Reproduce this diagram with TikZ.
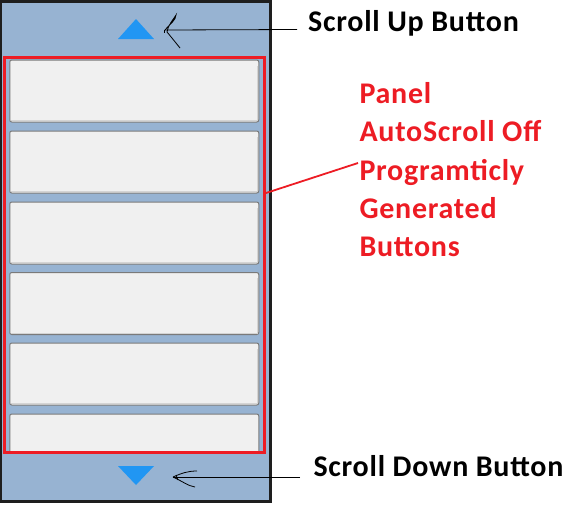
\documentclass[tikz,border=0pt]{standalone}
\usepackage{fontspec}
\setmainfont{Carlito}
\definecolor{frame}{HTML}{1E1E1E}
\definecolor{panelbg}{HTML}{97B3D2}
\definecolor{redbox}{HTML}{ED1C24}
\definecolor{tri}{HTML}{2196F3}
\definecolor{btnfill}{HTML}{F0F0F0}
\definecolor{btnedge}{HTML}{7A7A7A}
\definecolor{btnshade}{HTML}{D4D4D4}
\tikzset{
  btn/.style={draw=btnedge, fill=btnfill, rounded corners=2pt, line width=1pt,
    minimum width=249pt, minimum height=62pt, inner sep=0pt},
  lbl/.style={font=\bfseries\fontsize{30}{33}\selectfont\addfontfeature{LetterSpace=2.5}, anchor=base west, inner sep=0pt},
  redlbl/.style={lbl, text=redbox},
  pen/.style={line width=0.8pt, black},
}
\begin{document}
\begin{tikzpicture}[x=1pt,y=-1pt]
\useasboundingbox (0,0) rectangle (588,515);
\fill[white] (0,0) rectangle (588,515);
% frame
\fill[frame] (0,0) rectangle (272,503);
\fill[panelbg] (2,3) rectangle (269,500);
% triangles
\fill[tri] (118,39) -- (136,19) -- (154,39) -- cycle;
\fill[tri] (118,466) -- (136,485) -- (154,466) -- cycle;
% buttons
\foreach \n/\y in {b1/91, b2/162, b3/233, b4/303.5, b5/374} {
  \node[btn] (\n) at (134.25,\y) {};
  \draw[btnshade, line width=1pt] ([xshift=2pt,yshift=2pt]\n.south west) -- ([xshift=-2pt,yshift=2pt]\n.south east) -- ([xshift=-2pt,yshift=-6pt]\n.north east);
}
\begin{scope}
\clip (0,0) rectangle (272,451);
\node[btn] (b6) at (134.25,445) {};
\end{scope}
% red panel
\draw[redbox, line width=3pt] (4.5,57.5) rectangle (264.5,452.5);
\coordinate (panelR) at (266,193);
% labels
\node[lbl] (up) at (308,31.7) {Scroll Up Button};
\node[lbl] (down) at (313.3,476.7) {Scroll Down Button};
\node[redlbl] (t1) at (359.3,103.3) {Panel};
\node[redlbl] (t2) at (359.3,141.7) {AutoScroll Off};
\node[redlbl] (t3) at (359.3,180) {Programticly};
\node[redlbl] (t4) at (359.3,218.5) {Generated};
\node[redlbl] (t5) at (359.3,256.7) {Buttons};
% red connector
\coordinate (t3w) at (358,163);
\draw[redbox, line width=1.8pt] (panelR) -- (t3w);
% up arrow, hand drawn
\coordinate (upend) at (297,29.5);
\coordinate (uptip) at (165,30);
\draw[pen] (upend) -- (uptip);
\draw[pen] (uptip) .. controls (170,24) and (176,20) .. (176,15)
  .. controls (173,20) and (168,25) .. (167,32) .. controls (172,38) and (176,43) .. (180,48);
\draw[pen] (164,30) -- (164,33);
% down arrow, hand drawn
\coordinate (downend) at (300,477);
\coordinate (downtip) at (173,477);
\draw[pen] (downend) -- (downtip);
\draw[pen] (downtip) .. controls (182,473) and (188,471) .. (197,471);
\draw[pen] (downtip) .. controls (182,481) and (188,486) .. (195,487);
\draw[pen] (176,475) -- (178,480);
\end{tikzpicture}
\end{document}
